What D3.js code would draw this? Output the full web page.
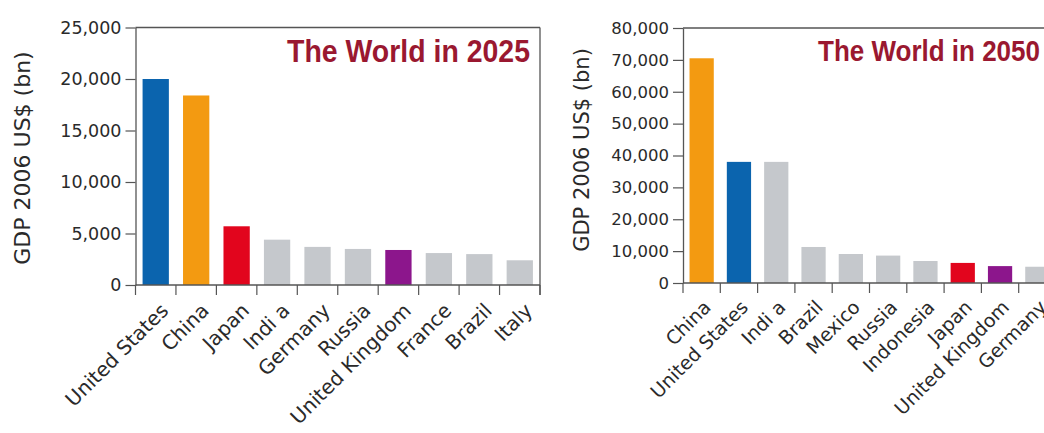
<!DOCTYPE html>
<html>
<head>
<meta charset="utf-8">
<script src="https://cdn.jsdelivr.net/npm/d3@7"></script>
<style>
  html, body { margin: 0; padding: 0; background: #fff; }
  svg { display: block; }
</style>
</head>
<body>
<svg id="chart" width="1044" height="433"></svg>
<script>
// GDP rankings, billions of 2006 US dollars
const countries2025 = ["United States", "China", "Japan", "Indi a", "Germany", "Russia",
  "United Kingdom", "France", "Brazil", "Italy"];
const gdp2025 = [20000, 18400, 5700, 4400, 3700, 3500, 3400, 3100, 3000, 2400];
const yTicks2025 = [0, 5000, 10000, 15000, 20000, 25000];

const countries2050 = ["China", "United States", "Indi a", "Brazil", "Mexico", "Russia",
  "Indonesia", "Japan", "United Kingdom", "Germany"];
const gdp2050 = [70500, 38000, 38000, 11300, 9100, 8600, 6900, 6300, 5300, 5100];
const yTicks2050 = [0, 10000, 20000, 30000, 40000, 50000, 60000, 70000, 80000];

// highlighted economies get their own colour, the rest are grey
const highlight = {
  "United States": "#0b64ae",
  "China": "#f39a11",
  "Japan": "#e2051d",
  "United Kingdom": "#8c168c"
};
const otherColor = "#c5c8cc";
const titleColor = "#9a1830";
const axisColor = "#555";

const svg = d3.select("#chart");
const fmt = d3.format(",");

function drawPanel(opts) {
  const { names, values, ticks, title, left, right, top, bottom, frameRight,
          tickFont, titleFont, titleStretch, labelFont, yTitleFont, yTitleX, yTitleY,
          titleX, titleY, titleLen, labelDx, labelY } = opts;

  const g = svg.append("g");

  const x = d3.scaleBand()
    .domain(names)
    .range([left, right])
    .paddingInner(0.35)
    .paddingOuter(0.175);

  const y = d3.scaleLinear()
    .domain([0, ticks[ticks.length - 1]])
    .range([bottom, top]);

  // bars
  g.selectAll("rect.bar")
    .data(names.map((n, i) => ({ name: n, value: values[i] })))
    .join("rect")
    .attr("class", "bar")
    .attr("x", d => x(d.name))
    .attr("width", x.bandwidth())
    .attr("y", d => y(d.value))
    .attr("height", d => y(0) - y(d.value))
    .attr("fill", d => highlight[d.name] || otherColor);

  // plot frame: top edge and right edge
  g.append("line")
    .attr("x1", left).attr("x2", frameRight)
    .attr("y1", top).attr("y2", top)
    .attr("stroke", axisColor).attr("stroke-width", 1.3);
  g.append("line")
    .attr("x1", frameRight).attr("x2", frameRight)
    .attr("y1", top).attr("y2", bottom + 10)
    .attr("stroke", axisColor).attr("stroke-width", 1.3);

  // y axis
  const yAxis = d3.axisLeft(y)
    .tickValues(ticks)
    .tickFormat(fmt)
    .tickSize(10)
    .tickSizeOuter(0)
    .tickPadding(4);
  const ya = g.append("g")
    .attr("transform", `translate(${left},0)`)
    .call(yAxis);
  ya.select(".domain").attr("stroke", axisColor).attr("stroke-width", 1.3);
  ya.selectAll(".tick line").attr("stroke", axisColor).attr("stroke-width", 1.2);
  ya.selectAll(".tick text")
    .attr("fill", "#2a2a2a")
    .style("font-family", "DejaVu Sans, sans-serif")
    .style("font-size", tickFont + "px");

  // x axis: baseline plus ticks between categories
  g.append("line")
    .attr("x1", left).attr("x2", frameRight)
    .attr("y1", bottom).attr("y2", bottom)
    .attr("stroke", axisColor).attr("stroke-width", 1.3);
  const gap = (x.step() - x.bandwidth()) / 2;
  const bounds = names.map(n => x(n) - gap).concat([x(names[names.length - 1]) + x.bandwidth() + gap]);
  g.selectAll("line.xtick")
    .data(bounds)
    .join("line")
    .attr("class", "xtick")
    .attr("x1", d => d).attr("x2", d => d)
    .attr("y1", bottom).attr("y2", bottom + 10)
    .attr("stroke", axisColor).attr("stroke-width", 1.2);

  // category labels, slanted
  g.selectAll("text.cat")
    .data(names)
    .join("text")
    .attr("class", "cat")
    .attr("transform", d => `translate(${x(d) + x.bandwidth() / 2 + labelDx},${labelY}) rotate(-45)`)
    .attr("text-anchor", "end")
    .attr("dy", "0.7em")
    .attr("fill", "#2a2a2a")
    .style("font-family", "DejaVu Sans, sans-serif")
    .style("font-size", labelFont + "px")
    .text(d => d);

  // y axis title
  g.append("text")
    .attr("transform", `translate(${yTitleX},${yTitleY}) rotate(-90)`)
    .attr("text-anchor", "middle")
    .attr("fill", "#2a2a2a")
    .style("font-family", "DejaVu Sans, sans-serif")
    .style("font-size", yTitleFont + "px")
    .text("GDP 2006 US$ (bn)");

  // panel title, slightly stretched vertically for a condensed look
  g.append("text")
    .attr("transform", `translate(${titleX},${titleY}) scale(1,${titleStretch})`)
    .attr("textLength", titleLen)
    .attr("lengthAdjust", "spacingAndGlyphs")
    .attr("fill", titleColor)
    .style("font-family", "Liberation Sans, Arial, sans-serif")
    .style("font-weight", "bold")
    .style("font-size", titleFont + "px")
    .text(title);
}

drawPanel({
  names: countries2025, values: gdp2025, ticks: yTicks2025,
  title: "The World in 2025",
  left: 135.5, right: 540, top: 27.5, bottom: 285, frameRight: 540,
  tickFont: 17.5, titleFont: 28.4, titleStretch: 1.08, labelFont: 20, yTitleFont: 22,
  yTitleX: 30, yTitleY: 158,
  titleX: 287, titleY: 62, titleLen: 243,
  labelDx: 4, labelY: 302
});

drawPanel({
  names: countries2050, values: gdp2050, ticks: yTicks2050,
  title: "The World in 2050",
  left: 683, right: 1056, top: 28, bottom: 283, frameRight: 1056,
  tickFont: 16.5, titleFont: 25.9, titleStretch: 1.13, labelFont: 19, yTitleFont: 21,
  yTitleX: 589, yTitleY: 150,
  titleX: 818, titleY: 61, titleLen: 222,
  labelDx: 1, labelY: 299
});
</script>
</body>
</html>
